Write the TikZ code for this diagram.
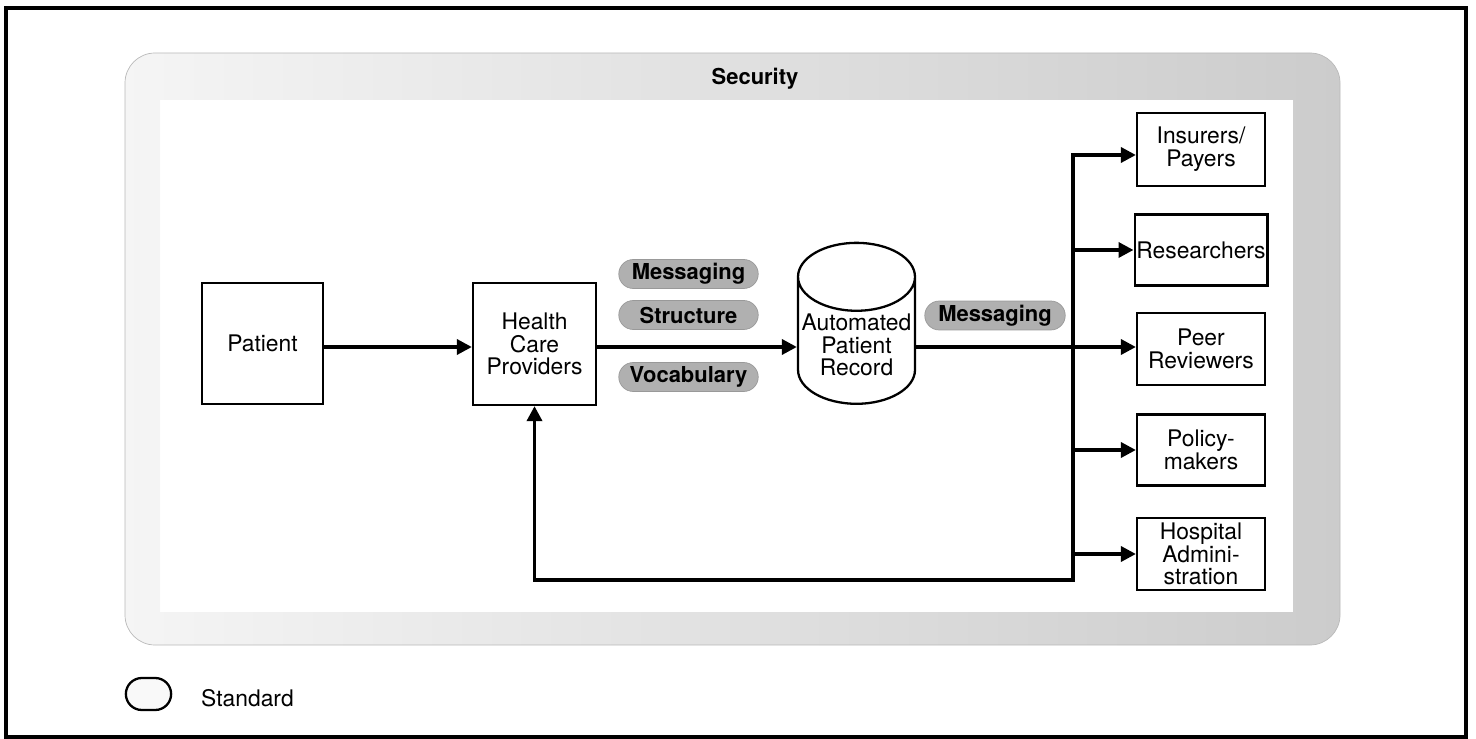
\documentclass[tikz,border=0pt]{standalone}
\usepackage{fontspec}
\setmainfont{TeX Gyre Heros}
\usetikzlibrary{arrows.meta,positioning,shapes,shapes.geometric,shapes.misc,calc}

\tikzset{
  party/.style={draw, line width=1.3pt, align=center, minimum width=2.56cm, minimum height=1.42cm, inner sep=1pt},
  standard/.style={rounded rectangle, draw=gray!80, line width=.4pt, fill=gray!62, font=\fontsize{12.5}{12.5}\selectfont\bfseries, minimum width=2.86cm, minimum height=.58cm, inner sep=1pt},
  tip/.tip={Triangle[length=.3cm, width=.3cm]},
  flow/.style={line width=2pt, -tip},
}

\begin{document}
\begin{tikzpicture}[x = .02cm, y = -.02cm, font=\fontsize{13}{13}\selectfont]
    \useasboundingbox (0,0) rectangle (1476,739);
    \draw[line width=1.8pt] (6,8) rectangle (1466,737);
    %%%%%%%%%%
    % security band
    \shade[even odd rule, left color=gray!8, middle color=gray!68, right color=gray!40]
      [rounded corners=.6cm] (125,53) rectangle (1340,645)
      [sharp corners] (160,100) rectangle (1293,612);
    \draw[gray!55, line width=.4pt, rounded corners=.6cm] (125,53) rectangle (1340,645);
    \node[font=\fontsize{12.5}{12.5}\selectfont\bfseries] (security) at (755,79) {Security};
    %%%%%%%%%%
    \node[party, minimum width=2.42cm, minimum height=2.42cm] (patient) at (262.5,343.5) {Patient};
    \node[party, minimum width=2.46cm, minimum height=2.44cm] (providers) at (534.5,344) {Health\\Care\\Providers};
    \node[cylinder, draw, line width=1.3pt, shape border rotate=90, aspect=.6, align=center, minimum width=2.34cm, minimum height=2.48cm, inner sep=1pt] (record) at (856.5,345) {Automated\\Patient\\Record};
    %%%%%%%%%%
    \node[standard] (msgin) at (688.5,274) {Messaging};
    \node[standard] (structure) at (688.5,315) {Structure};
    \node[standard] (vocab) at (688.5,377) {Vocabulary};
    \node[standard, minimum width=2.88cm] (msgout) at (995,315.5) {Messaging};
    %%%%%%%%%%
    \node[party, minimum height=1.46cm] (insurers) at (1201,149.5) {Insurers/\\Payers};
    \node[party] (researchers) at (1201,250) {Researchers};
    \node[party, minimum height=1.44cm] (peer) at (1201,349) {Peer\\Reviewers};
    \node[party] (policy) at (1201,450) {Policy-\\makers};
    \node[party, minimum height=1.44cm] (hospital) at (1201,554) {Hospital\\Admini-\\stration};
    %%%%%%%%%%
    \node[rounded rectangle, draw, line width=1.3pt, fill=gray!5, minimum width=1.14cm, minimum height=.64cm] (legend) at (148.5,694) {};
    \node[anchor=west] (standard) at (195,698) {Standard};
    %%%%%%%%%%
    \coordinate (main) at (0,347);
    \coordinate (trunktop) at (1073,155);
    \coordinate (trunkbot) at (1073,580);
    \draw[flow] (patient.east |- main) -- (providers.west |- main);
    \draw[flow] (providers.east |- main) -- (record.west |- main);
    \draw[flow] (record.east |- main) -- (peer.west |- main);
    % record goes out to the users, and back to the providers
    \draw[flow, tip-tip] (providers.south) |- (trunkbot) -- (trunktop) -- (insurers.west |- trunktop);
    \draw[flow] (trunktop |- researchers.west) -- (researchers.west);
    \draw[flow] (trunktop |- policy.west) -- (policy.west);
    \draw[flow] (trunktop |- hospital.west) -- (hospital.west);
\end{tikzpicture}
\end{document}
